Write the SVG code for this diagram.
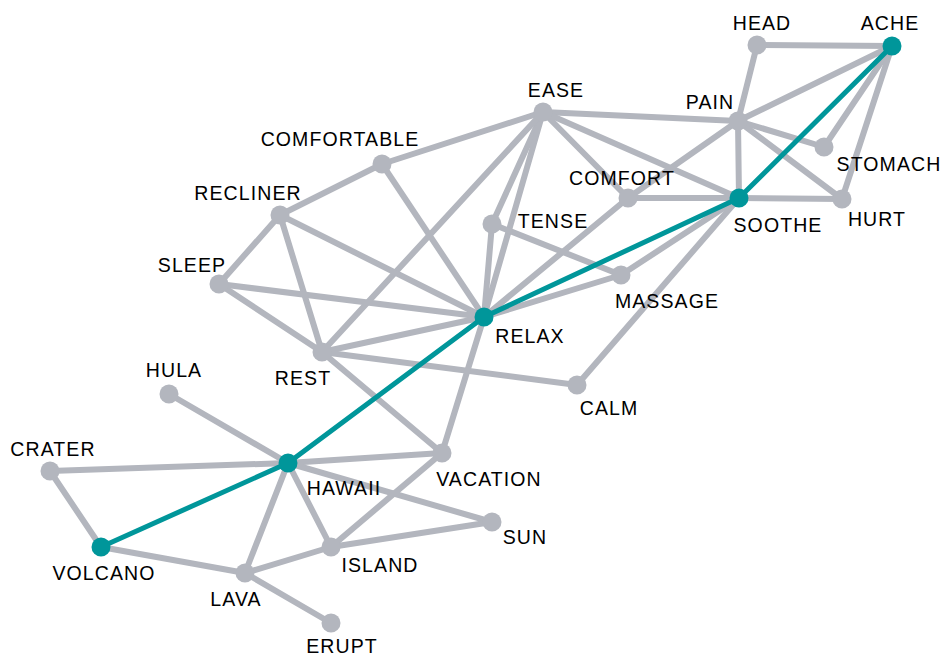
<svg xmlns="http://www.w3.org/2000/svg" width="943" height="658" viewBox="0 0 943 658">
<style>
.e{stroke:#b3b6be;stroke-width:6;stroke-linecap:round}
.t{stroke:#00969a;stroke-width:5;stroke-linecap:round}
.n{fill:#b3b6be}
.h{fill:#00969a}
text{font-family:"Liberation Sans",Arial,Helvetica,sans-serif;font-size:19.5px;letter-spacing:1.1px;fill:#000;text-anchor:middle}
</style>
<rect width="943" height="658" fill="#fff"/>
<g id="edges">
<line class="e" x1="757" y1="45" x2="892" y2="46"/>
<line class="e" x1="757" y1="45" x2="738" y2="121"/>
<line class="e" x1="738" y1="121" x2="892" y2="46"/>
<line class="e" x1="892" y1="46" x2="824" y2="147"/>
<line class="e" x1="892" y1="46" x2="842" y2="199"/>
<line class="e" x1="738" y1="121" x2="824" y2="147"/>
<line class="e" x1="738" y1="121" x2="842" y2="199"/>
<line class="e" x1="738" y1="121" x2="739" y2="198"/>
<line class="e" x1="738" y1="121" x2="628" y2="198"/>
<line class="e" x1="543" y1="112" x2="738" y2="121"/>
<line class="e" x1="543" y1="112" x2="739" y2="198"/>
<line class="e" x1="543" y1="112" x2="628" y2="198"/>
<line class="e" x1="543" y1="112" x2="382" y2="164"/>
<line class="e" x1="543" y1="112" x2="492" y2="224"/>
<line class="e" x1="543" y1="112" x2="484" y2="317"/>
<line class="e" x1="543" y1="112" x2="322" y2="352"/>
<line class="e" x1="628" y1="198" x2="739" y2="198"/>
<line class="e" x1="739" y1="198" x2="842" y2="199"/>
<line class="e" x1="628" y1="198" x2="484" y2="317"/>
<line class="e" x1="739" y1="198" x2="621" y2="275"/>
<line class="e" x1="739" y1="198" x2="577" y2="385"/>
<line class="e" x1="492" y1="224" x2="621" y2="275"/>
<line class="e" x1="492" y1="224" x2="484" y2="317"/>
<line class="e" x1="484" y1="317" x2="621" y2="275"/>
<line class="e" x1="382" y1="164" x2="280" y2="215"/>
<line class="e" x1="382" y1="164" x2="484" y2="317"/>
<line class="e" x1="280" y1="215" x2="219" y2="284"/>
<line class="e" x1="280" y1="215" x2="484" y2="317"/>
<line class="e" x1="280" y1="215" x2="322" y2="352"/>
<line class="e" x1="219" y1="284" x2="484" y2="317"/>
<line class="e" x1="219" y1="284" x2="322" y2="352"/>
<line class="e" x1="322" y1="352" x2="484" y2="317"/>
<line class="e" x1="322" y1="352" x2="577" y2="385"/>
<line class="e" x1="322" y1="352" x2="442" y2="453"/>
<line class="e" x1="484" y1="317" x2="442" y2="453"/>
<line class="e" x1="169" y1="394" x2="288" y2="463"/>
<line class="e" x1="50" y1="471" x2="288" y2="463"/>
<line class="e" x1="50" y1="471" x2="101" y2="547"/>
<line class="e" x1="288" y1="463" x2="442" y2="453"/>
<line class="e" x1="288" y1="463" x2="492" y2="522"/>
<line class="e" x1="288" y1="463" x2="331" y2="547"/>
<line class="e" x1="288" y1="463" x2="245" y2="573"/>
<line class="e" x1="442" y1="453" x2="331" y2="547"/>
<line class="e" x1="331" y1="547" x2="492" y2="522"/>
<line class="e" x1="331" y1="547" x2="245" y2="573"/>
<line class="e" x1="101" y1="547" x2="245" y2="573"/>
<line class="e" x1="245" y1="573" x2="331" y2="623"/>
<line class="t" x1="892" y1="46" x2="739" y2="198"/>
<line class="t" x1="739" y1="198" x2="484" y2="317"/>
<line class="t" x1="484" y1="317" x2="288" y2="463"/>
<line class="t" x1="288" y1="463" x2="101" y2="547"/>
</g>
<g id="n-head"><circle class="n" cx="757" cy="45" r="9.5"/><text x="762" y="30">HEAD</text></g>
<g id="n-ache"><circle class="h" cx="892" cy="46" r="9.5"/><text x="890" y="30">ACHE</text></g>
<g id="n-pain"><circle class="n" cx="738" cy="121" r="9.5"/><text x="710" y="109">PAIN</text></g>
<g id="n-ease"><circle class="n" cx="543" cy="112" r="9.5"/><text x="556" y="97">EASE</text></g>
<g id="n-stomach"><circle class="n" cx="824" cy="147" r="9.5"/><text x="889" y="171">STOMACH</text></g>
<g id="n-hurt"><circle class="n" cx="842" cy="199" r="9.5"/><text x="877" y="226">HURT</text></g>
<g id="n-soothe"><circle class="h" cx="739" cy="198" r="9.5"/><text x="778" y="232">SOOTHE</text></g>
<g id="n-comfort"><circle class="n" cx="628" cy="198" r="9.5"/><text x="622" y="185">COMFORT</text></g>
<g id="n-tense"><circle class="n" cx="492" cy="224" r="9.5"/><text x="553" y="228">TENSE</text></g>
<g id="n-massage"><circle class="n" cx="621" cy="275" r="9.5"/><text x="667" y="308">MASSAGE</text></g>
<g id="n-relax"><circle class="h" cx="484" cy="317" r="9.5"/><text x="530" y="343">RELAX</text></g>
<g id="n-comfortable"><circle class="n" cx="382" cy="164" r="9.5"/><text x="340" y="146">COMFORTABLE</text></g>
<g id="n-recliner"><circle class="n" cx="280" cy="215" r="9.5"/><text x="248" y="200">RECLINER</text></g>
<g id="n-sleep"><circle class="n" cx="219" cy="284" r="9.5"/><text x="192" y="272">SLEEP</text></g>
<g id="n-rest"><circle class="n" cx="322" cy="352" r="9.5"/><text x="303" y="385">REST</text></g>
<g id="n-calm"><circle class="n" cx="577" cy="385" r="9.5"/><text x="609" y="415">CALM</text></g>
<g id="n-hula"><circle class="n" cx="169" cy="394" r="9.5"/><text x="174" y="377">HULA</text></g>
<g id="n-crater"><circle class="n" cx="50" cy="471" r="9.5"/><text x="53" y="456">CRATER</text></g>
<g id="n-hawaii"><circle class="h" cx="288" cy="463" r="9.5"/><text x="344" y="495">HAWAII</text></g>
<g id="n-vacation"><circle class="n" cx="442" cy="453" r="9.5"/><text x="489" y="486">VACATION</text></g>
<g id="n-sun"><circle class="n" cx="492" cy="522" r="9.5"/><text x="525" y="544">SUN</text></g>
<g id="n-volcano"><circle class="h" cx="101" cy="547" r="9.5"/><text x="104" y="580">VOLCANO</text></g>
<g id="n-island"><circle class="n" cx="331" cy="547" r="9.5"/><text x="380" y="572">ISLAND</text></g>
<g id="n-lava"><circle class="n" cx="245" cy="573" r="9.5"/><text x="236" y="606">LAVA</text></g>
<g id="n-erupt"><circle class="n" cx="331" cy="623" r="9.5"/><text x="342" y="653">ERUPT</text></g>
</svg>
